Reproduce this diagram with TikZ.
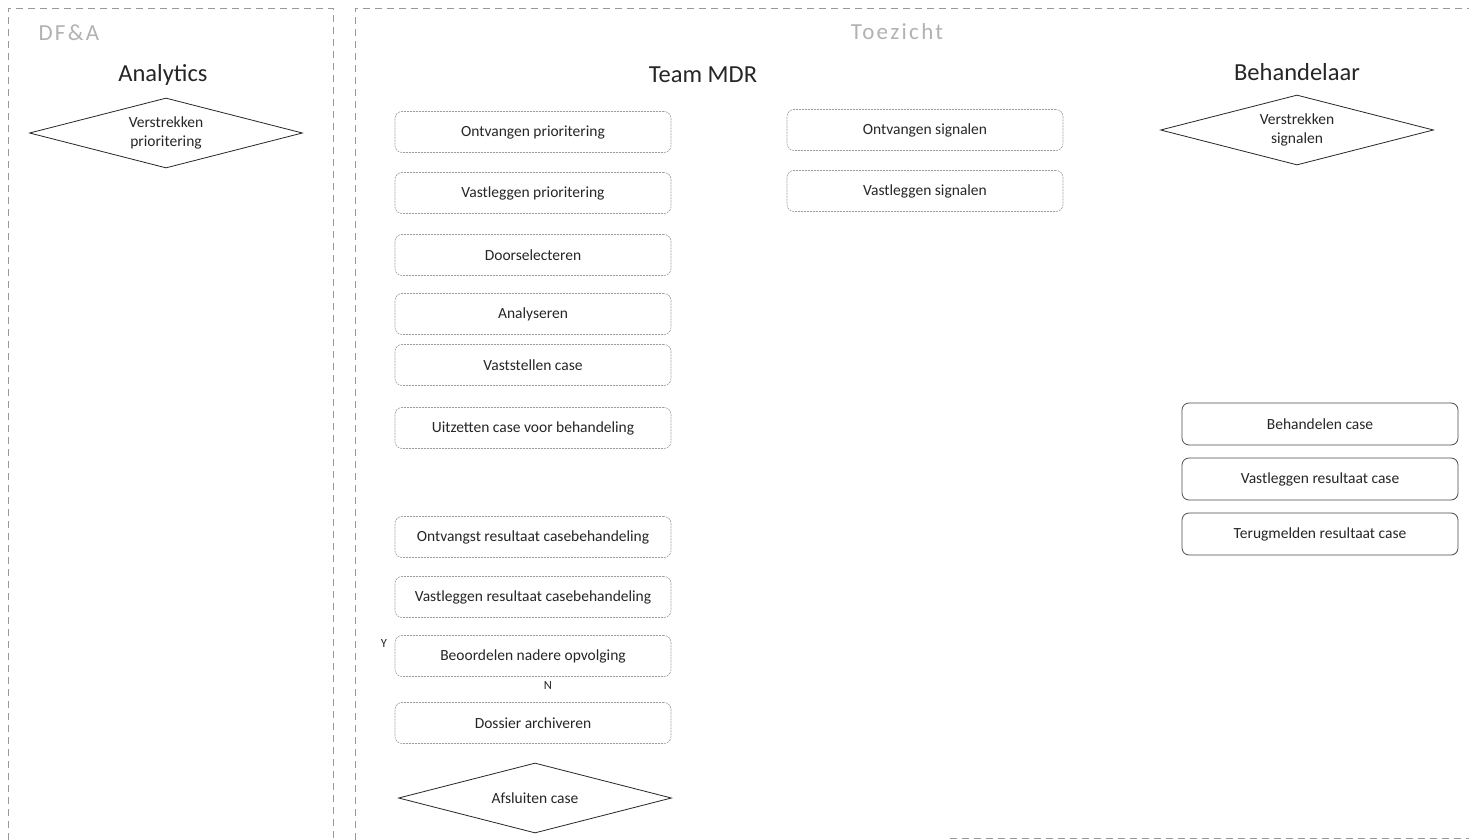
\documentclass[tikz,border=0pt]{standalone}
\usepackage{fontspec}
\setmainfont{Carlito}
\usetikzlibrary{shapes.geometric}
\tikzset{
  mdrbox/.style={draw=gray!75, line width=0.6pt, dash pattern=on 2pt off 1pt, rounded corners=7pt,
    minimum width=276pt, minimum height=41pt, inner sep=0pt, font=\fontsize{15.5}{18}\selectfont, text=black!85},
  behbox/.style={draw=black!70, line width=0.8pt, rounded corners=7pt,
    minimum width=276pt, minimum height=42pt, inner sep=0pt, font=\fontsize{15.5}{18}\selectfont, text=black!85},
  dia/.style={diamond, aspect=3.9, draw=black!85, line width=0.8pt, minimum width=273pt, minimum height=70pt,
    inner sep=0pt, align=center, font=\fontsize{15.5}{19}\selectfont, text=black!85},
  head/.style={font=\fontsize{24.5}{28}\selectfont, text=black!85},
  lanetitle/.style={font=\fontsize{23}{26}\selectfont\addfontfeature{LetterSpace=10}, text=gray!60},
  lane/.style={draw=gray!80, line width=0.6pt, dash pattern=on 7pt off 5pt},
  lbl/.style={font=\fontsize{12.5}{14}\selectfont, text=black!85, inner sep=0pt}
}
\begin{document}
\begin{tikzpicture}[x=1pt,y=-1pt]
\useasboundingbox (0,0) rectangle (1469,840);
\fill[white] (0,0) rectangle (1469,840);
% lanes
\draw[lane] (8,840) -- (8,8) -- (333,8) -- (333,840);
\draw[lane] (355,840) -- (355,8) -- (1469,8);
\draw[lane] (950,838) -- (1469,838);
% lane titles
\node[lanetitle, anchor=west] (dfa) at (35,33) {DF\&A};
\node[lanetitle] (toez) at (897,32) {Toezicht};
% headers
\node[head] (hana) at (163,75) {Analytics};
\node[head] (hmdr) at (703,75) {Team MDR};
\node[head] (hbeh) at (1297,72) {Behandelaar};
% analytics
\node[dia] (vp) at (166,133) {Verstrekken\\prioritering};
% team MDR
\node[mdrbox] (b1) at (533,132) {Ontvangen prioritering};
\node[mdrbox] (b2) at (533,193) {Vastleggen prioritering};
\node[mdrbox] (b3) at (533,255) {Doorselecteren};
\node[mdrbox] (b4) at (533,314) {Analyseren};
\node[mdrbox] (b5) at (533,365) {Vaststellen case};
\node[mdrbox] (b6) at (533,428) {Uitzetten case voor behandeling};
\node[mdrbox] (b7) at (533,537) {Ontvangst resultaat casebehandeling};
\node[mdrbox] (b8) at (533,597) {Vastleggen resultaat casebehandeling};
\node[mdrbox] (b9) at (533,656) {Beoordelen nadere opvolging};
\node[mdrbox] (b10) at (533,723) {Dossier archiveren};
\node[dia] (afs) at (535,798) {Afsluiten case};
\node[lbl] (ly) at (384,643) {Y};
\node[lbl] (ln) at (548,685) {N};
% signals
\node[mdrbox] (s1) at (925,130) {Ontvangen signalen};
\node[mdrbox] (s2) at (925,191) {Vastleggen signalen};
% behandelaar
\node[dia] (vs) at (1297,130) {Verstrekken\\signalen};
\node[behbox] (c1) at (1320,424) {Behandelen case};
\node[behbox] (c2) at (1320,479) {Vastleggen resultaat case};
\node[behbox] (c3) at (1320,534) {Terugmelden resultaat case};
\end{tikzpicture}
\end{document}
